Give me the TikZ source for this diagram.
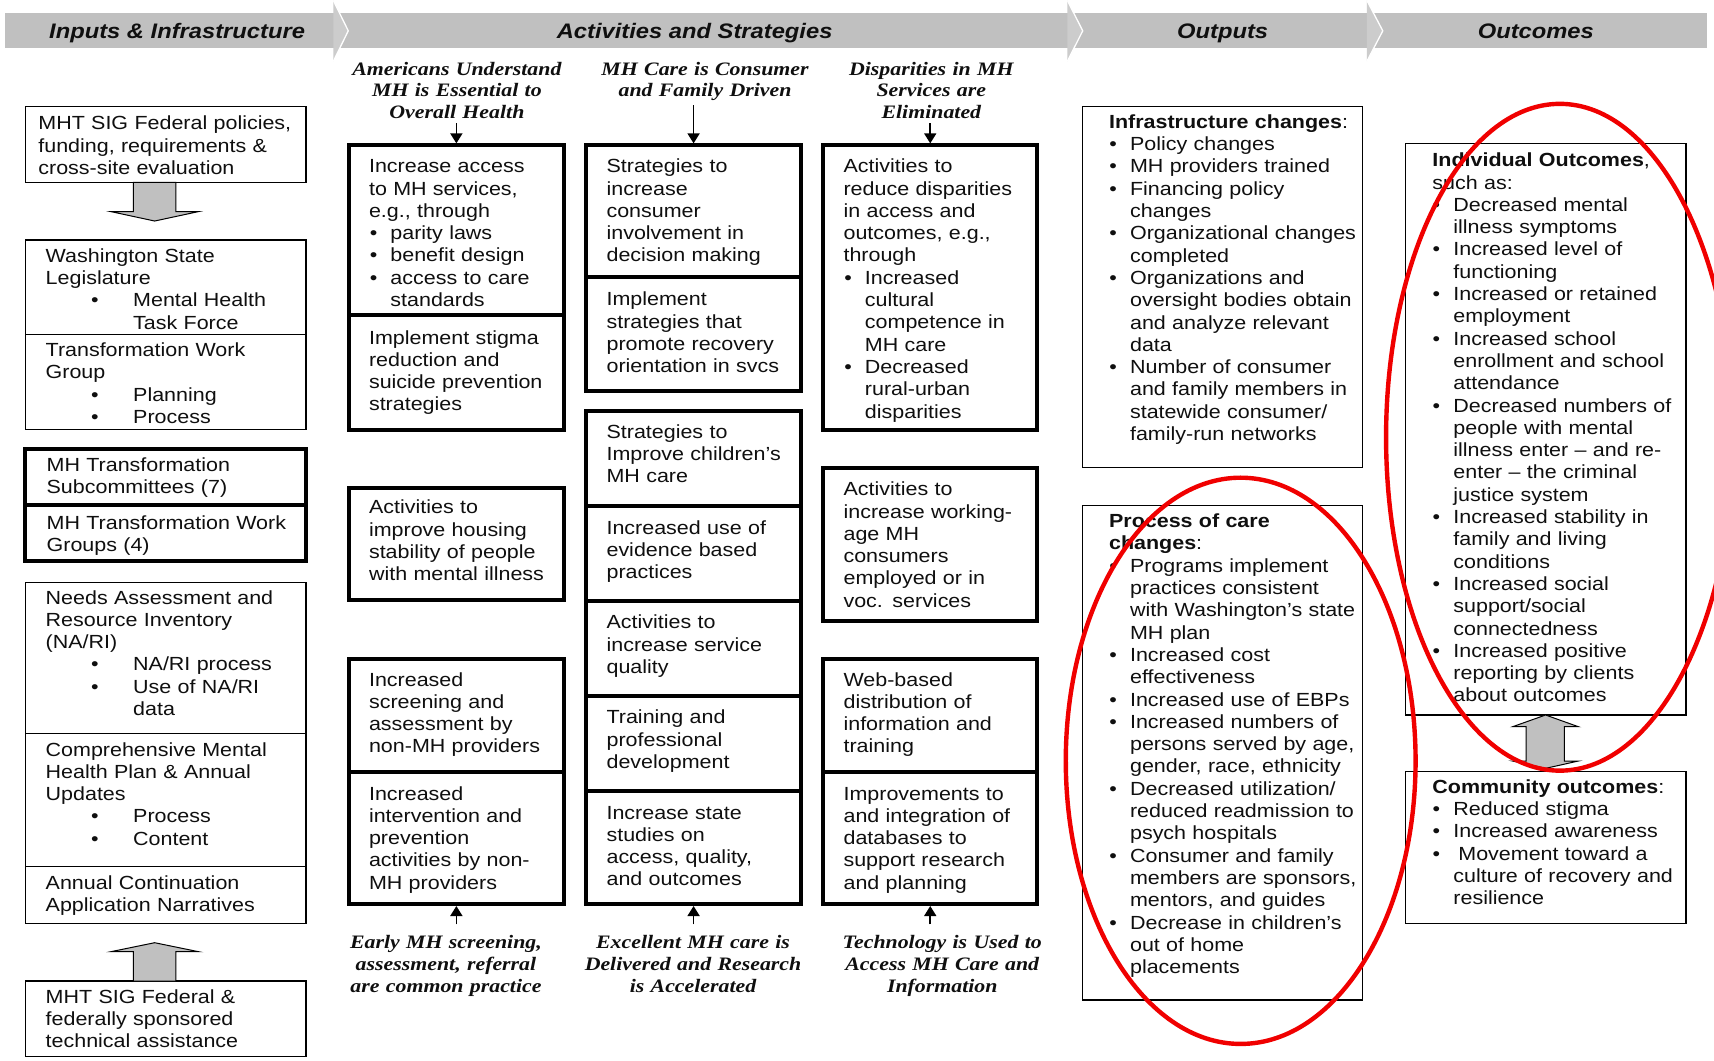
\documentclass[tikz,border=0pt]{standalone}
\usepackage{fontspec}
\setmainfont{Liberation Sans}[FakeStretch=1.13]
\newfontfamily\mottofont{Liberation Serif}[FakeStretch=1.15]
\usetikzlibrary{fit,arrows.meta}
\setlength{\parindent}{0pt}
\setlength{\parskip}{0pt}

\definecolor{bandgray}{RGB}{192,192,192}
\definecolor{tipgray}{RGB}{204,204,204}
\definecolor{blockgray}{RGB}{192,192,192}
\definecolor{ringred}{RGB}{240,0,0}
\definecolor{ink}{RGB}{15,15,15}

% body text: Arial-like, slightly widened
\newcommand\bodyfont{\fontsize{19}{22.3}\selectfont}
% fixed first-line height so every text block starts at a known baseline
\newcommand\lead{\rule{0pt}{14pt}}
% line break that stays inside the current paragraph
\newcommand\nl{\unskip\nobreak\hfil\break}
% bullet item: #1 bullet offset, #2 text indent, #3 text;
% inside an item every \nl continues at the text indent
\newcommand\bitem[3]{\par\noindent\makebox[#2][l]{\hspace*{#1}\textbullet}{\def\nl{\unskip\nobreak\hfil\break\hspace*{#2}}#3}}
\newcommand\li[1]{\bitem{45.5pt}{87.5pt}{#1}}
\newcommand\ai[1]{\bitem{0.8pt}{21.4pt}{#1}}
\newcommand\oi[1]{\bitem{0.3pt}{21pt}{#1}}

\tikzset{
  txt/.style={anchor=north west, inner sep=0pt, outer sep=0pt, text width=330pt, align=left, font=\bodyfont, text=ink},
  thinbox/.style={draw=black, line width=1.3pt, inner sep=0pt},
  thickbox/.style={draw=black, line width=4pt, inner sep=0pt},
  motto/.style={anchor=north, inner sep=0pt, text width=280pt, align=center, text=ink},
  topmotto/.style={motto, font=\mottofont\bfseries\itshape\fontsize{19}{21.9}\selectfont},
  botmotto/.style={motto, font=\mottofont\bfseries\itshape\fontsize{19}{21.9}\selectfont},
  bandtext/.style={anchor=base, inner sep=0pt, font=\bfseries\itshape\fontsize{21}{24}\selectfont, text=ink},
  pointer/.style={line width=1.6pt, -{Triangle[width=12pt,length=10pt]}},
  blockarrow/.style={fill=blockgray, draw=black, line width=1pt, line join=miter},
  ring/.style={draw=ringred, line width=4.4pt},
  tipfill/.style={fill=tipgray},
  tipedge/.style={draw=white, line width=1.3pt}
}

\begin{document}
\begin{tikzpicture}[x=1.0931pt, y=-1.0931pt]
\useasboundingbox (0,0) rectangle (1568,970);
\fill[white] (0,0) rectangle (1568,970);

% ---------- heading band with chevron tips ----------
\fill[bandgray] (5,12.2) rectangle (1562,44.2);
\foreach \bx/\tx in {305/318.6, 976.5/990.5, 1250.5/1265} {
  \fill[tipfill] (\bx,0.5) -- (\tx,28.2) -- (\bx,56) -- cycle;
  \draw[tipedge] (\bx,0.5) -- (\tx,28.2) -- (\bx,56);
}
\node[bandtext] (bh1) at (162,35) {Inputs \& Infrastructure};
\node[bandtext] (bh2) at (635.5,35) {Activities and Strategies};
\node[bandtext] (bh3) at (1118.5,35) {Outputs};
\node[bandtext] (bh4) at (1405,35) {Outcomes};

% ---------- inputs & infrastructure ----------
\node[thinbox, fit={(23.5,97.6)(280,166.8)}] (lA) {};
\node[thinbox, fit={(23.5,219.5)(280,305.9)}] (lB1) {};
\node[thinbox, fit={(23.5,305.9)(280,392.8)}] (lB2) {};
\node[thickbox, fit={(23.2,411)(280.2,462.3)}] (lC1) {};
\node[thickbox, fit={(23.2,462.3)(280.2,513.5)}] (lC2) {};
\node[thinbox, fit={(23.5,533)(280,671)}] (lD1) {};
\node[thinbox, fit={(23.5,671)(280,793)}] (lD2) {};
\node[thinbox, fit={(23.5,793)(280,844.7)}] (lD3) {};
\node[thinbox, fit={(23.5,897.5)(280,966.7)}] (lE) {};

\node[txt] (tA) at (35.1,106.1) {\lead MHT SIG Federal policies,\nl funding, requirements \&\nl cross-site evaluation};
\node[txt] (tB1) at (41.8,227.2) {\lead Washington State\nl Legislature\li{Mental Health\nl Task Force}};
\node[txt] (tB2) at (41.8,313.5) {\lead Transformation Work\nl Group\li{Planning}\li{Process}};
\node[txt] (tC1) at (42.7,418.7) {\lead MH Transformation\nl Subcommittees (7)};
\node[txt] (tC2) at (42.7,471.5) {\lead MH Transformation Work\nl Groups (4)};
\node[txt] (tD1) at (41.8,539.8) {\lead Needs Assessment and\nl Resource Inventory\nl (NA/RI)\li{NA/RI process}\li{Use of NA/RI\nl data}};
\node[txt] (tD2) at (41.8,678.8) {\lead Comprehensive Mental\nl Health Plan \& Annual\nl Updates\li{Process}\li{Content}};
\node[txt] (tD3) at (41.8,800.5) {\lead Annual Continuation\nl Application Narratives};
\node[txt] (tE) at (41.8,905.1) {\lead MHT SIG Federal \&\nl federally sponsored\nl technical assistance};

% block arrows in the inputs column
\draw[blockarrow] (122,166.8) -- (122,193.6) -- (101.5,193.6) -- (141.5,202.2) -- (181.5,193.6) -- (161,193.6) -- (161,166.8) -- cycle;
\draw[blockarrow] (122,897.5) -- (122,870.6) -- (101.5,870.6) -- (141.5,862.4) -- (181.5,870.6) -- (161,870.6) -- (161,897.5) -- cycle;

% ---------- activities and strategies ----------
\node[thickbox, fit={(319,133)(516,288.5)}] (c1p1) {};
\node[thickbox, fit={(319,288.5)(516,393)}] (c1p2) {};
\node[thickbox, fit={(319,446.5)(516,549)}] (c1p3) {};
\node[thickbox, fit={(319,603)(516,706.5)}] (c1p4) {};
\node[thickbox, fit={(319,706.5)(516,827)}] (c1p5) {};

\node[thickbox, fit={(536.5,133)(732.5,253.5)}] (c2p1) {};
\node[thickbox, fit={(536.5,253.5)(732.5,358)}] (c2p2) {};
\node[thickbox, fit={(536.5,376)(732.5,462.5)}] (c2p3) {};
\node[thickbox, fit={(536.5,462.5)(732.5,550)}] (c2p4) {};
\node[thickbox, fit={(536.5,550)(732.5,636.8)}] (c2p5) {};
\node[thickbox, fit={(536.5,636.8)(732.5,723.8)}] (c2p6) {};
\node[thickbox, fit={(536.5,723.8)(732.5,827)}] (c2p7) {};

\node[thickbox, fit={(753,133)(949,393)}] (c3p1) {};
\node[thickbox, fit={(753,428)(949,568)}] (c3p2) {};
\node[thickbox, fit={(753,603)(949,706.5)}] (c3p3) {};
\node[thickbox, fit={(753,706.5)(949,827)}] (c3p4) {};

\node[txt] (t11) at (337.6,145.2) {\lead Increase access\nl to MH services,\nl e.g., through\ai{parity laws}\ai{benefit design}\ai{access to care\nl standards}};
\node[txt] (t12) at (337.6,301.9) {\lead Implement stigma\nl reduction and\nl suicide prevention\nl strategies};
\node[txt] (t13) at (337.6,457.4) {\lead Activities to\nl improve housing\nl stability of people\nl with mental illness};
\node[txt] (t14) at (337.6,614.8) {\lead Increased\nl screening and\nl assessment by\nl non-MH providers};
\node[txt] (t15) at (337.6,719.1) {\lead Increased\nl intervention and\nl prevention\nl activities by non-\nl MH providers};

\node[txt] (t21) at (554.9,145.2) {\lead Strategies to\nl increase\nl consumer\nl involvement in\nl decision making};
\node[txt] (t22) at (554.9,267.1) {\lead Implement\nl strategies that\nl promote recovery\nl orientation in svcs};
\node[txt] (t23) at (554.9,388.2) {\lead Strategies to\nl Improve children’s\nl MH care};
\node[txt] (t24) at (554.9,476) {\lead Increased use of\nl evidence based\nl practices};
\node[txt] (t25) at (554.9,562.6) {\lead Activities to\nl increase service\nl quality};
\node[txt] (t26) at (554.9,649.5) {\lead Training and\nl professional\nl development};
\node[txt] (t27) at (554.9,736.5) {\lead Increase state\nl studies on\nl access, quality,\nl and outcomes};

\node[txt] (t31) at (771.7,145.2) {\lead Activities to\nl reduce disparities\nl in access and\nl outcomes, e.g.,\nl through\ai{Increased\nl cultural\nl competence in\nl MH care}\ai{Decreased\nl rural-urban\nl disparities}};
\node[txt] (t32) at (771.7,440.7) {\lead Activities to\nl increase working-\nl age MH\nl consumers\nl employed or in\nl voc. services};
\node[txt] (t33) at (771.7,614.8) {\lead Web-based\nl distribution of\nl information and\nl training};
\node[txt] (t34) at (771.7,719.1) {\lead Improvements to\nl and integration of\nl databases to\nl support research\nl and planning};

% goal statements above and below the columns
\node[topmotto] (h1) at (418,55.7) {\lead Americans Understand\\MH is Essential to\\Overall Health};
\node[topmotto] (h2) at (645,55.7) {\lead MH Care is Consumer\\and Family Driven};
\node[topmotto] (h3) at (852,55.7) {\lead Disparities in MH\\Services are\\Eliminated};
\node[botmotto] (f1) at (408,854.8) {\lead Early MH screening,\\assessment, referral\\are common practice};
\node[botmotto] (f2) at (634,854.8) {\lead Excellent MH care is\\Delivered and Research\\is Accelerated};
\node[botmotto] (f3) at (862,854.8) {\lead Technology is Used to\\Access MH Care and\\Information};

\draw[pointer, shorten <=4pt] (h1.south -| c1p1.north) -- (c1p1.north);
\draw[pointer, shorten <=4pt] (h2.south -| c2p1.north) -- (c2p1.north);
\draw[pointer, shorten <=4pt] (h3.south -| c3p1.north) -- (c3p1.north);
\draw[pointer] ([yshift=10pt]f1.north -| c1p5.south) -- (c1p5.south);
\draw[pointer] ([yshift=10pt]f2.north -| c2p7.south) -- (c2p7.south);
\draw[pointer] ([yshift=10pt]f3.north -| c3p4.south) -- (c3p4.south);

% ---------- outputs ----------
\node[thinbox, fit={(990,97.6)(1246.6,427.9)}] (oI) {};
\node[thinbox, fit={(990,462.6)(1246.6,914.8)}] (oP) {};
\node[txt] (o1) at (1014.6,104.6) {\lead\textbf{Infrastructure changes}:\oi{Policy changes}\oi{MH providers trained}\oi{Financing policy\nl changes}\oi{Organizational changes\nl completed}\oi{Organizations and\nl oversight bodies obtain\nl and analyze relevant\nl data}\oi{Number of consumer\nl and family members in\nl statewide consumer/\nl family-run networks}};
\node[txt] (o2) at (1014.6,469.9) {\lead\textbf{Process of care}\nl\textbf{changes}:\oi{Programs implement\nl practices consistent\nl with Washington’s state\nl MH plan}\oi{Increased cost\nl effectiveness}\oi{Increased use of EBPs}\oi{Increased numbers of\nl persons served by age,\nl gender, race, ethnicity}\oi{Decreased utilization/\nl reduced readmission to\nl psych hospitals}\oi{Consumer and family\nl members are sponsors,\nl mentors, and guides}\oi{Decrease in children’s\nl out of home\nl placements}};

% ---------- outcomes ----------
\node[thinbox, fit={(1286,131.5)(1542.4,654)}] (uI) {};
\node[thinbox, fit={(1286,706)(1542.4,844.7)}] (uC) {};
\node[txt] (i1) at (1310.4,139.7) {\lead\textbf{Individual Outcomes},\nl such as:\oi{Decreased mental\nl illness symptoms}\oi{Increased level of\nl functioning}\oi{Increased or retained\nl employment}\oi{Increased school\nl enrollment and school\nl attendance}\oi{Decreased numbers of\nl people with mental\nl illness enter \textendash\ and re-\nl enter \textendash\ the criminal\nl justice system}\oi{Increased stability in\nl family and living\nl conditions}\oi{Increased social\nl support/social\nl connectedness}\oi{Increased positive\nl reporting by clients\nl about outcomes}};
\node[txt] (c1) at (1310.4,713) {\lead\textbf{Community outcomes}:\oi{Reduced stigma}\oi{Increased awareness}\oi{\hspace*{5pt}Movement toward a\nl culture of recovery and\nl resilience}};

% two-way block arrow between individual and community outcomes
\draw[blockarrow] (1413.9,654.1) -- (1443.9,664.8) -- (1431,664.8) -- (1431,696.2) -- (1443.9,696.2) -- (1413.9,702.9) -- (1383.8,696.2) -- (1396,696.2) -- (1396,664.8) -- (1383.8,664.8) -- cycle;

% ---------- red highlight rings ----------
\draw[ring] (1427,400) ellipse [x radius=159, y radius=305];
\draw[ring] (1135,696) ellipse [x radius=160, y radius=259];
\end{tikzpicture}
\end{document}
